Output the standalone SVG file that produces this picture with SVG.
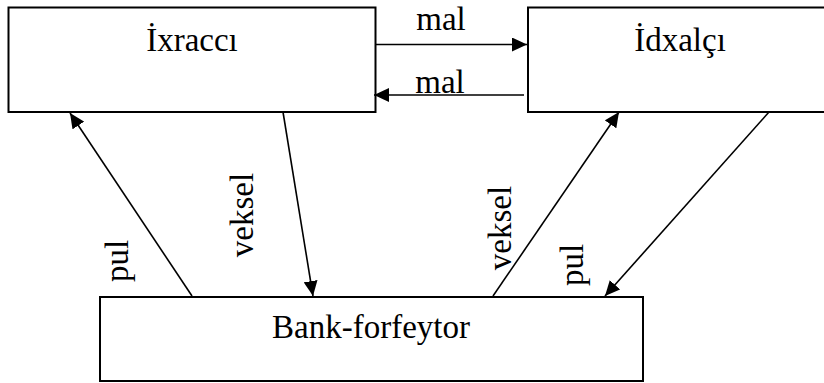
<svg xmlns="http://www.w3.org/2000/svg" width="824" height="383" viewBox="0 0 824 383">
<defs>
<style>
.box{fill:#fff;stroke:#000;stroke-width:2}
.ln{fill:none;stroke:#000;stroke-width:1.6}
.t{font-family:"Liberation Serif","Times New Roman",serif;font-size:33px;fill:#000}
</style>
<marker id="ah" markerUnits="userSpaceOnUse" markerWidth="16" markerHeight="14" refX="15" refY="7" orient="auto">
<path d="M0,0 L15,7 L0,14 z" fill="#000"/>
</marker>
</defs>
<rect width="824" height="383" fill="#fff"/>
<g id="node-ixracci">
<rect class="box" x="8.5" y="7.5" width="367" height="104.5"/>
<text class="t" x="192" y="51" text-anchor="middle">İxraccı</text>
</g>
<g id="node-idxalci">
<rect class="box" x="528" y="7.5" width="310" height="104.5"/>
<text class="t" x="680" y="51" text-anchor="middle">İdxalçı</text>
</g>
<g id="node-bank">
<rect class="box" x="100" y="297" width="543" height="84"/>
<text class="t" x="371" y="338" text-anchor="middle">Bank-forfeytor</text>
</g>
<g id="connectors">
<line class="ln" x1="376" y1="44.5" x2="527" y2="44.5" marker-end="url(#ah)"/>
<text class="t" x="441" y="30" text-anchor="middle">mal</text>
<line class="ln" x1="524" y1="95" x2="374" y2="95" marker-end="url(#ah)"/>
<text class="t" x="440" y="93" text-anchor="middle">mal</text>
<line class="ln" x1="192" y1="296" x2="70" y2="113" marker-end="url(#ah)"/>
<text class="t" transform="translate(128,261) rotate(-90)" text-anchor="middle">pul</text>
<line class="ln" x1="283" y1="112" x2="313" y2="296" marker-end="url(#ah)"/>
<text class="t" transform="translate(253,215) rotate(-90)" text-anchor="middle">veksel</text>
<line class="ln" x1="493" y1="296" x2="619" y2="112" marker-end="url(#ah)"/>
<text class="t" transform="translate(511,228) rotate(-90)" text-anchor="middle">veksel</text>
<line class="ln" x1="769" y1="112" x2="605" y2="296" marker-end="url(#ah)"/>
<text class="t" transform="translate(583,265) rotate(-90)" text-anchor="middle">pul</text>
</g>
</svg>
